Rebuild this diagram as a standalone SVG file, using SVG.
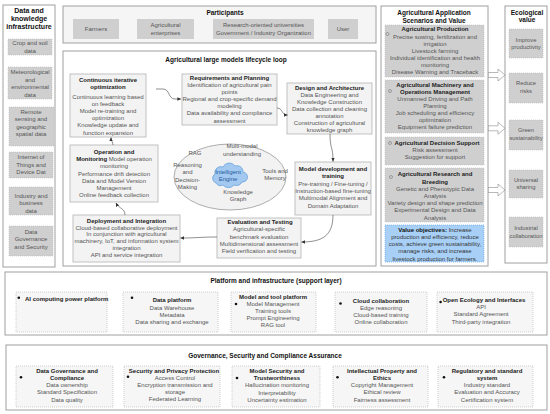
<svg xmlns="http://www.w3.org/2000/svg" width="550" height="414" viewBox="0 0 550 414">
<style>
text{font-family:"Liberation Sans",Arial,sans-serif}
.h{font-size:6.5px;font-weight:bold;fill:#111;text-anchor:middle}
.t{font-size:6px;fill:#555;text-anchor:middle}
.tb{font-size:6px;font-weight:bold;fill:#222;text-anchor:middle}
.ol{fill:#fff;stroke:#a0a0a0;stroke-width:1}
.g{fill:#cfcfcf;stroke:#b8b8b8;stroke-width:0.6;stroke-dasharray:1 1}
.n{fill:#f3f3f3;stroke:#b3b3b3;stroke-width:0.8}
.p{fill:#f6f6f6;stroke:#b3b3b3;stroke-width:0.6;stroke-dasharray:1 1}
.c{fill:none;stroke:#444;stroke-width:0.6}
.ha{fill:#fff;stroke:#8a8a8a;stroke-width:0.6}
.dot{fill:#111}
.ring{fill:none;stroke:#666;stroke-width:0.5}
.e{font-size:5.8px;fill:#555;text-anchor:middle}
</style>
<defs>
<marker id="ah" markerWidth="4" markerHeight="4" refX="3.6" refY="2" orient="auto" markerUnits="userSpaceOnUse"><path d="M0,0.3 L3.8,2 L0,3.7 z" fill="#333"/></marker>
</defs>

<g id="data-infra">
<rect class="ol" x="3" y="5" width="52" height="262"/>
<text class="h" style="font-size:7px" x="29"><tspan x="29" y="12.5">Data and</tspan><tspan x="29" y="20.5">knowledge</tspan><tspan x="29" y="28.5">infrastructure</tspan></text>
<rect class="g" x="8" y="39" width="44" height="16"/>
<text class="t"><tspan x="30" y="45.3">Crop and soil</tspan><tspan x="30" y="52.5">data</tspan></text>
<rect class="g" x="8" y="67" width="44" height="32"/>
<text class="t"><tspan x="30" y="74">Meteorological</tspan><tspan x="30" y="81.5">and</tspan><tspan x="30" y="89">environmental</tspan><tspan x="30" y="96.5">data</tspan></text>
<rect class="g" x="9" y="107" width="45" height="39"/>
<text class="t"><tspan x="31" y="114">Remote</tspan><tspan x="31" y="121.3">sensing and</tspan><tspan x="31" y="128.6">geographic</tspan><tspan x="31" y="135.9">spatial data</tspan></text>
<rect class="g" x="9" y="152" width="44" height="26"/>
<text class="t"><tspan x="31" y="159">Internet of</tspan><tspan x="31" y="166.6">Things and</tspan><tspan x="31" y="174.2">Device Dat</tspan></text>
<rect class="g" x="9" y="187" width="44" height="28"/>
<text class="t"><tspan x="31" y="197.8">Industry and</tspan><tspan x="31" y="205.2">business</tspan><tspan x="31" y="212.6">data</tspan></text>
<rect class="g" x="9" y="226" width="44" height="30"/>
<text class="t"><tspan x="31" y="233.6">Data</tspan><tspan x="31" y="241.2">Governance</tspan><tspan x="31" y="248.8">and Security</tspan></text>
</g>

<g id="participants">
<rect x="63" y="6" width="313" height="37" fill="#f5f5f5" stroke="#a0a0a0" stroke-width="1"/>
<text class="h" x="225" y="14.5">Participants</text>
<rect class="g" x="73" y="19" width="46" height="20" style="stroke:none"/>
<text class="t" x="96" y="31">Farmers</text>
<rect class="g" x="137" y="19" width="57" height="20" style="stroke:none"/>
<text class="t"><tspan x="165.5" y="27">Agricultural</tspan><tspan x="165.5" y="34.5">enterprises</tspan></text>
<rect class="g" x="213" y="19" width="101" height="20" style="stroke:none"/>
<text class="t"><tspan x="263.5" y="27">Research-oriented universities</tspan><tspan x="263.5" y="34.5">Government / Industry Organization</tspan></text>
<rect class="g" x="328" y="19" width="30" height="20" style="stroke:none"/>
<text class="t" x="343" y="31">User</text>
</g>

<g id="lifecycle">
<rect class="ol" x="63" y="51" width="313" height="215"/>
<text class="h" x="226" y="61.5">Agricultural large models lifecycle loop</text>
</g>

<g id="continuous-optimization">
<rect class="n" x="70" y="74" width="76" height="63"/>
<text class="tb"><tspan x="108" y="82">Continuous iterative</tspan><tspan x="108" y="89.3">optimization</tspan></text>
<text class="t"><tspan x="108" y="99">Continuous learning based</tspan><tspan x="108" y="106.1">on feedback</tspan><tspan x="108" y="113.2">Model re-training and</tspan><tspan x="108" y="120.3">optimization</tspan><tspan x="108" y="127.4">Knowledge update and</tspan><tspan x="108" y="134.5">function expansion</tspan></text>
</g>

<g id="requirements">
<rect class="n" x="182" y="74" width="95" height="51"/>
<text class="tb" x="229.5" y="79.8">Requirements and Planning</text>
<text class="t"><tspan x="229.5" y="87">Identification of agricultural pain</tspan><tspan x="229.5" y="94.1">points</tspan><tspan x="229.5" y="101.2">Regional and crop-specific demand</tspan><tspan x="229.5" y="108.3">modeling</tspan><tspan x="229.5" y="115.4">Data availability and compliance</tspan><tspan x="229.5" y="122.5">assessment</tspan></text>
</g>

<g id="design">
<rect class="n" x="287" y="83" width="85" height="51"/>
<text class="tb" x="329.5" y="89.8">Design and Architecture</text>
<text class="t"><tspan x="329.5" y="96.9">Data Engineering and</tspan><tspan x="329.5" y="104">Knowledge Construction</tspan><tspan x="329.5" y="111.1">Data collection and cleaning</tspan><tspan x="329.5" y="118.2">annotation</tspan><tspan x="329.5" y="125.3">Construction of agricultural</tspan><tspan x="329.5" y="132.4">knowledge graph</tspan></text>
</g>

<g id="model-development">
<rect class="n" x="295" y="162" width="76" height="53"/>
<text class="tb"><tspan x="333" y="171">Model development and</tspan><tspan x="333" y="178.3">training</tspan></text>
<text class="t"><tspan x="333" y="185.6">Pre-training / Fine-tuning /</tspan><tspan x="333" y="192.9">Instruction-based fine-tuning</tspan><tspan x="333" y="200.2">Multimodal Alignment and</tspan><tspan x="333" y="207.5">Domain Adaptation</tspan></text>
</g>

<g id="evaluation">
<rect class="n" x="217" y="218" width="84" height="40"/>
<text class="tb" x="260" y="224.3">Evaluation and Testing</text>
<text class="t"><tspan x="259" y="231.3">Agricultural-specific</tspan><tspan x="259" y="238.6">benchmark evaluation</tspan><tspan x="259" y="245.9">Multidimensional assessment</tspan><tspan x="259" y="253.2">Field verification and testing</tspan></text>
</g>

<g id="deployment">
<rect class="n" x="73" y="215" width="107" height="47"/>
<text class="tb" x="126.5" y="222.8">Deployment and Integration</text>
<text class="t"><tspan x="126.5" y="229.6">Cloud-based collaborative deployment</tspan><tspan x="126.5" y="236.4">In conjunction with agricultural</tspan><tspan x="126.5" y="243.2">machinery, IoT, and information system</tspan><tspan x="126.5" y="250">integration</tspan><tspan x="126.5" y="256.8">API and service integration</tspan></text>
</g>

<g id="operation">
<rect class="n" x="70" y="145" width="88" height="57"/>
<text class="tb" x="114" y="154">Operation and</text>
<text class="t" x="114" y="161.2"><tspan style="font-weight:bold;fill:#222">Monitoring</tspan> Model operation</text>
<text class="t"><tspan x="114" y="168.4">monitoring</tspan><tspan x="114" y="175.6">Performance drift detection</tspan><tspan x="114" y="182.8">Data and Model Version</tspan><tspan x="114" y="190">Management</tspan><tspan x="114" y="197.2">Online feedback collection</tspan></text>
</g>

<g id="engine">
<ellipse cx="230" cy="177" rx="56" ry="33" fill="#f2f2f2" stroke="#999" stroke-width="0.8"/>
<path d="M216,183 a5,5 0 0 1 -1,-9 a6,6 0 0 1 8,-7 a7,7 0 0 1 12,-1 a6,6 0 0 1 8,6 a5,5 0 0 1 -1,10 a6,6 0 0 1 -8,3 a7,7 0 0 1 -11,0 a5,5 0 0 1 -7,-2 z" fill="#a3c9f0" stroke="#4a8fd8" stroke-width="0.6"/>
<text class="t" style="fill:#1d5a9e"><tspan x="228" y="174">Intelligent</tspan><tspan x="228" y="181.2">Engine</tspan></text>
<text class="t" x="195" y="155">RAG</text>
<text class="t"><tspan x="242" y="148">Multi-modal</tspan><tspan x="242" y="155.5">understanding</tspan></text>
<text class="t"><tspan x="187.5" y="167">Reasoning</tspan><tspan x="187.5" y="174.3">and</tspan><tspan x="187.5" y="181.6">Decision-</tspan><tspan x="187.5" y="188.9">Making</tspan></text>
<text class="t"><tspan x="275" y="173">Tools and</tspan><tspan x="275" y="180.3">Memory</tspan></text>
<text class="t"><tspan x="238" y="194">Knowledge</tspan><tspan x="238" y="201.3">Graph</tspan></text>
</g>

<g id="connectors">
<path class="c" d="M156,89 L163,89 C170,89 168,99 175,99 L181,99" marker-end="url(#ah)"/>
<path class="c" d="M277,108 C283,108 281,115 287.5,115" marker-end="url(#ah)"/>
<path class="c" d="M330,134 C330,150 333,145 333,161.5" marker-end="url(#ah)"/>
<path class="c" d="M333,215 C333,236 322,242 301.5,242" marker-end="url(#ah)"/>
<path class="c" d="M217,237 C200,237 198,238 180.5,238" marker-end="url(#ah)"/>
<path class="c" d="M125,215 C125,208 119,209 116,203" marker-end="url(#ah)"/>
<path class="c" d="M113,145 C113,142 111,141 111,137.5" marker-end="url(#ah)"/>
<path class="ha" d="M488,72.5 H498 V69 L505,75 L498,81 V77.5 H488 Z"/>
<path class="ha" d="M488,125.8 H498 V122.3 L505,128.3 L498,134.3 V130.8 H488 Z"/>
<path class="ha" d="M488,187.5 H498 V184 L505,190 L498,196 V192.5 H488 Z"/>
</g>

<g id="applications">
<rect class="ol" x="381" y="6" width="107" height="260"/>
<text class="h"><tspan x="434" y="15">Agricultural Application</tspan><tspan x="434" y="22.6">Scenarios and Value</tspan></text>
</g>
<g id="app-production">
<rect class="g" x="385" y="25" width="99" height="52"/>
<circle class="ring" cx="387.5" cy="34" r="1.5"/>
<text class="tb" x="435" y="31.3">Agricultural Production</text>
<text class="t"><tspan x="435" y="38.5">Precise sowing, fertilization and</tspan><tspan x="435" y="45.5">irrigation</tspan><tspan x="435" y="52.5">Livestock farming</tspan><tspan x="435" y="59.5">Individual identification and health</tspan><tspan x="435" y="66.5">monitoring</tspan><tspan x="435" y="73.5">Disease Warning and Traceback</tspan></text>
</g>
<g id="app-machinery">
<rect class="g" x="385" y="80" width="99" height="53"/>
<circle class="ring" cx="390" cy="91" r="1.5"/>
<text class="tb"><tspan x="435" y="87">Agricultural Machinery and</tspan><tspan x="435" y="94">Operations Management</tspan></text>
<text class="t"><tspan x="435" y="101">Unmanned Driving and Path</tspan><tspan x="435" y="108">Planning</tspan><tspan x="435" y="115">Job scheduling and efficiency</tspan><tspan x="435" y="122">optimization</tspan><tspan x="435" y="129">Equipment failure prediction</tspan></text>
</g>
<g id="app-decision">
<rect class="g" x="385" y="137" width="99" height="28"/>
<circle class="ring" cx="390" cy="143" r="1.5"/>
<text class="tb" x="437" y="145">Agricultural Decision Support</text>
<text class="t"><tspan x="435" y="152">Risk assessment</tspan><tspan x="435" y="159">Suggestion for support</tspan></text>
</g>
<g id="app-research">
<rect class="g" x="385" y="168" width="99" height="54"/>
<circle class="ring" cx="391" cy="177" r="1.5"/>
<text class="tb"><tspan x="435" y="176">Agricultural Research and</tspan><tspan x="435" y="183.5">Breeding</tspan></text>
<text class="t"><tspan x="435" y="191">Genetic and Phenotypic Data</tspan><tspan x="435" y="198">Analysis</tspan><tspan x="435" y="205">Variety design and shape prediction</tspan><tspan x="435" y="212.3">Experimental Design and Data</tspan><tspan x="435" y="219.5">Analysis</tspan></text>
</g>
<g id="app-value">
<rect x="385" y="225" width="99" height="37" fill="#a8d0f7" stroke="#5b9ee0" stroke-width="0.6" stroke-dasharray="1 1"/>
<text class="t" style="fill:#333" x="435" y="232"><tspan style="font-weight:bold;fill:#111">Value objectives:</tspan> Increase</text>
<text class="t" style="fill:#333"><tspan x="435" y="239">production and efficiency, reduce</tspan><tspan x="435" y="246">costs, achieve green sustainability,</tspan><tspan x="435" y="253.3">manage risks, and increase</tspan><tspan x="435" y="260.5">livestock production for farmers.</tspan></text>
</g>

<g id="ecological">
<rect class="ol" x="505" y="6" width="42" height="257"/>
<text class="h"><tspan x="527" y="14.5">Ecological</tspan><tspan x="527" y="21.5">value</tspan></text>
<rect class="g" x="509" y="29" width="34" height="29"/>
<text class="e"><tspan x="526" y="42">Improve</tspan><tspan x="526" y="49">productivity</tspan></text>
<rect class="g" x="509" y="73" width="34" height="30"/>
<text class="e"><tspan x="526" y="85">Reduce</tspan><tspan x="526" y="92.5">risks</tspan></text>
<rect class="g" x="509" y="120" width="34" height="30"/>
<text class="e"><tspan x="526" y="132.3">Green</tspan><tspan x="526" y="139.8">sustainability</tspan></text>
<rect class="g" x="509" y="170" width="34" height="28"/>
<text class="e"><tspan x="526" y="182">Universal</tspan><tspan x="526" y="189.3">sharing</tspan></text>
<rect class="g" x="509" y="217" width="34" height="30"/>
<text class="e"><tspan x="526" y="230">Industrial</tspan><tspan x="526" y="237.5">collaboration</tspan></text>
</g>

<g id="platform">
<rect class="ol" x="5" y="272" width="542" height="63"/>
<text class="h" x="276" y="283">Platform and infrastructure (support layer)</text>
</g>
<g id="plat-ai">
<rect class="p" x="16" y="292" width="91" height="40"/>
<circle class="dot" cx="18.8" cy="297.8" r="1.3"/>
<text class="tb" style="text-anchor:start" x="25" y="300.8">AI computing power platform</text>
</g>
<g id="plat-data">
<rect class="p" x="123" y="292" width="95" height="40"/>
<circle class="dot" cx="132" cy="297.8" r="1.3"/>
<text class="tb" x="172" y="302.3">Data platform</text>
<text class="t"><tspan x="172" y="309.6">Data Warehouse</tspan><tspan x="172" y="316.9">Metadata</tspan><tspan x="172" y="324.2">Data sharing and exchange</tspan></text>
</g>
<g id="plat-model">
<rect class="p" x="231" y="292" width="85" height="40"/>
<circle class="dot" cx="236" cy="304" r="1.3"/>
<text class="tb" x="273" y="298.6">Model and tool platform</text>
<text class="t"><tspan x="273" y="305.8">Model Management</tspan><tspan x="273" y="313">Training tools</tspan><tspan x="273" y="320.2">Prompt Engineering</tspan><tspan x="273" y="327.4">RAG tool</tspan></text>
</g>
<g id="plat-cloud">
<rect class="p" x="335" y="292" width="92" height="40"/>
<circle class="dot" cx="340.5" cy="303.5" r="1.3"/>
<text class="tb" x="381" y="302.5">Cloud collaboration</text>
<text class="t"><tspan x="381" y="309.6">Edge reasoning</tspan><tspan x="381" y="316.8">Cloud-based training</tspan><tspan x="381" y="324">Online collaboration</tspan></text>
</g>
<g id="plat-open">
<rect class="p" x="437" y="292" width="96" height="40"/>
<circle class="dot" cx="440.6" cy="302" r="1.3"/>
<text class="tb" x="484" y="301.8">Open Ecology and Interfaces</text>
<text class="t"><tspan x="481" y="308.6">API</tspan><tspan x="481" y="316.4">Standard Agreement</tspan><tspan x="481" y="323.6">Third-party integration</tspan></text>
</g>

<g id="governance">
<rect class="ol" x="6" y="345" width="541" height="65"/>
<text class="h" x="265" y="358">Governance, Security and Compliance Assurance</text>
</g>
<g id="gov-data">
<rect class="p" x="16" y="366" width="97" height="41"/>
<circle class="dot" cx="21" cy="377.3" r="1.3"/>
<text class="tb"><tspan x="67" y="372.8">Data Governance and</tspan><tspan x="67" y="379.8">Compliance</tspan></text>
<text class="t"><tspan x="67" y="386.8">Data ownership</tspan><tspan x="67" y="394">Standard Specification</tspan><tspan x="67" y="401.5">Data quality</tspan></text>
</g>
<g id="gov-security">
<rect class="p" x="124" y="366" width="96" height="41"/>
<circle class="dot" cx="128" cy="376.7" r="1.3"/>
<text class="tb" x="174" y="372.8">Security and Privacy Protection</text>
<text class="t"><tspan x="175" y="379.8">Access Control</tspan><tspan x="175" y="386.8">Encryption transmission and</tspan><tspan x="175" y="393.8">storage</tspan><tspan x="175" y="401.2">Federated Learning</tspan></text>
</g>
<g id="gov-model">
<rect class="p" x="232" y="366" width="88" height="41"/>
<circle class="dot" cx="237" cy="378" r="1.3"/>
<text class="tb"><tspan x="277" y="372.8">Model Security and</tspan><tspan x="277" y="380">Trustworthiness</tspan></text>
<text class="t"><tspan x="277" y="387.4">Hallucination monitoring</tspan><tspan x="277" y="394.5">Interpretability</tspan><tspan x="277" y="401.6">Uncertainty estimation</tspan></text>
</g>
<g id="gov-ip">
<rect class="p" x="333" y="366" width="95" height="41"/>
<circle class="dot" cx="337.5" cy="377.3" r="1.3"/>
<text class="tb"><tspan x="382" y="372.8">Intellectual Property and</tspan><tspan x="382" y="379.8">Ethics</tspan></text>
<text class="t"><tspan x="382" y="386.8">Copyright Management</tspan><tspan x="382" y="394">Ethical review</tspan><tspan x="382" y="401.5">Fairness assessment</tspan></text>
</g>
<g id="gov-regulatory">
<rect class="p" x="438" y="366" width="95" height="41"/>
<circle class="dot" cx="444" cy="377.3" r="1.3"/>
<text class="tb"><tspan x="487" y="372.8">Regulatory and standard</tspan><tspan x="487" y="379.8">system</tspan></text>
<text class="t"><tspan x="487" y="386.8">Industry standard</tspan><tspan x="487" y="394">Evaluation and Accuracy</tspan><tspan x="487" y="401.5">Certification system</tspan></text>
</g>
</svg>
